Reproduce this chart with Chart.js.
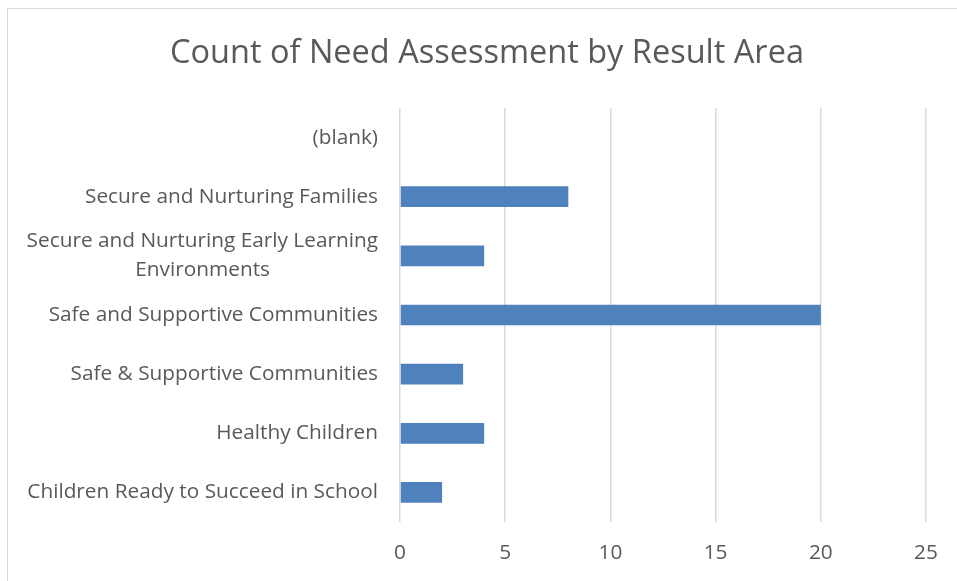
<!DOCTYPE html>
<html>
<head>
<meta charset="utf-8">
<script src="https://cdn.jsdelivr.net/npm/chart.js@4"></script>
<style>
  html, body { margin: 0; padding: 0; background: #fff; overflow: hidden; }
  #wrap { position: relative; width: 957px; height: 581px; }
  #frame { position: absolute; left: 7px; top: 8px; width: 980px; height: 600px; border: 1.5px solid #d9d9d9; box-sizing: border-box; }
  canvas { position: absolute; left: 0; top: 0; }
</style>
</head>
<body>
<div id="wrap">
  <div id="frame"></div>
  <canvas id="chart" width="957" height="581"></canvas>
</div>
<script>
// Count of Need Assessment by Result Area
const categories = [
  '(blank)',
  'Secure and Nurturing Families',
  ['Secure and Nurturing Early Learning', 'Environments'],
  'Safe and Supportive Communities',
  'Safe & Supportive Communities',
  'Healthy Children',
  'Children Ready to Succeed in School'
];
const counts = [null, 8, 4, 20, 3, 4, 2];
const xTicks = [0, 5, 10, 15, 20, 25];

const textColor = '#595959';
const fontFamily = '"Open Sans", "Noto Sans", sans-serif';
const tickSize = 20.8;

// pad the shorter lines of a wrapped label so they sit centred under the longest one
const measure = document.createElement('canvas').getContext('2d');
measure.font = tickSize + 'px ' + fontFamily;
function centreLines(label){
  if (!Array.isArray(label)) return label;
  const widest = Math.max(...label.map(l => measure.measureText(l).width));
  const sp = measure.measureText(' ').width;
  return label.map(l => l + ' '.repeat(Math.round((widest - measure.measureText(l).width) / 2 / sp)));
}

// the title sits centred on the chart frame, a little right of the canvas middle
const titleShift = {
  id: 'titleShift',
  afterLayout(chart){ if (chart.titleBlock) chart.titleBlock.left = 48; }
};

const canvas = document.getElementById('chart');
new Chart(canvas.getContext('2d'), {
  type: 'bar',
  data: {
    labels: categories,
    datasets: [{
      label: 'Count',
      data: counts,
      backgroundColor: '#4f81bd',
      borderWidth: 0,
      categoryPercentage: 1,
      barPercentage: 0.35
    }]
  },
  plugins: [titleShift],
  options: {
    indexAxis: 'y',
    responsive: false,
    animation: false,
    layout: { padding: { top: 0, right: 31, bottom: 0, left: 0 } },
    plugins: {
      legend: { display: false },
      tooltip: { enabled: false },
      title: {
        display: true,
        text: 'Count of Need Assessment by Result Area',
        color: textColor,
        font: { family: fontFamily, size: 32.5, weight: 'normal' },
        padding: { top: 34, bottom: 35 }
      }
    },
    scales: {
      x: {
        min: xTicks[0],
        max: xTicks[xTicks.length - 1],
        afterBuildTicks: s => { s.ticks = xTicks.map(v => ({ value: v })); },
        grid: { color: '#d9d9d9', lineWidth: 1.5, drawTicks: false },
        border: { display: false },
        ticks: { color: textColor, font: { family: fontFamily, size: tickSize }, padding: 19 },
        afterFit: s => { s.height = 59; }
      },
      y: {
        grid: { display: false, drawTicks: false },
        border: { display: false },
        ticks: {
          color: textColor,
          font: { family: fontFamily, size: tickSize, lineHeight: 1.4 },
          padding: 22,
          autoSkip: false,
          callback: function(v){ return centreLines(this.getLabelForValue(v)); }
        },
        afterFit: s => { s.width = 400; }
      }
    }
  }
});
</script>
</body>
</html>
